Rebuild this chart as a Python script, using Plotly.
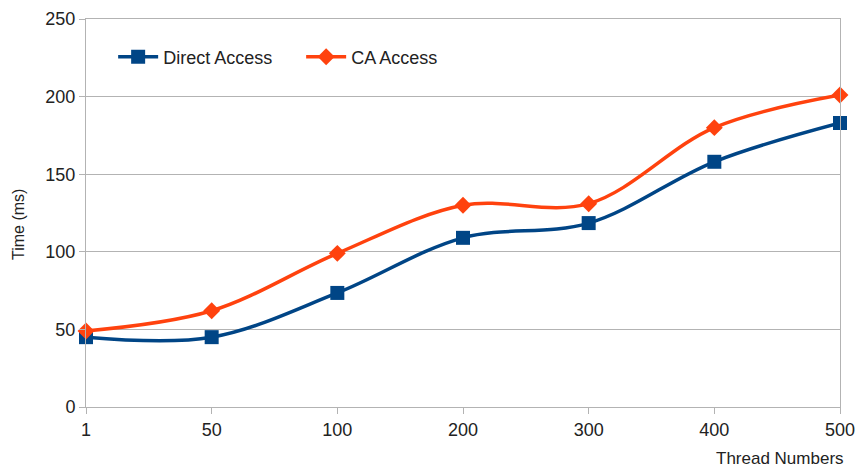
import plotly.graph_objects as go

threads = ["1", "50", "100", "200", "300", "400", "500"]
direct_access = [45, 45, 73.5, 109, 118.5, 158, 183]
ca_access = [49, 62, 99, 130, 131, 180, 201]
y_ticks = [0, 50, 100, 150, 200, 250]

font_family = "Liberation Sans, Arial, sans-serif"

fig = go.Figure()
fig.add_trace(go.Scatter(
    x=threads, y=direct_access, name="Direct Access",
    mode="lines+markers", line=dict(color="#004586", width=3.5, shape="spline", smoothing=1),
    marker=dict(symbol="square", size=14, color="#004586"), cliponaxis=False,
))
fig.add_trace(go.Scatter(
    x=threads, y=ca_access, name="CA Access",
    mode="lines+markers", line=dict(color="#ff420e", width=3.5, shape="spline", smoothing=1),
    marker=dict(symbol="diamond", size=13, color="#ff420e"), cliponaxis=False,
))

fig.update_layout(
    width=856, height=473,
    margin=dict(l=86, r=16, t=19, b=66, autoexpand=False),
    paper_bgcolor="white", plot_bgcolor="white",
    font=dict(family=font_family, size=18, color="#222"),
    showlegend=True,
    legend=dict(orientation="h", x=0.036, y=0.902, xanchor="left", yanchor="middle",
                bgcolor="rgba(0,0,0,0)", font=dict(size=18), itemwidth=40, tracegroupgap=0,
                entrywidth=133, entrywidthmode="pixels"),
)
fig.update_xaxes(
    type="category", range=[0, 6], showgrid=False, automargin=False,
    showline=True, linecolor="#b3b3b3", linewidth=1, mirror=True,
    ticks="outside", ticklen=6, tickcolor="#b3b3b3",
    tickfont=dict(size=18),
)
fig.update_yaxes(
    range=[0, 250], tickvals=y_ticks, showgrid=True, gridcolor="#b3b3b3", gridwidth=1,
    showline=True, linecolor="#b3b3b3", linewidth=1, mirror=True, zeroline=False, automargin=False,
    ticks="outside", ticklen=6, tickcolor="#b3b3b3",
    tickfont=dict(size=18),
)
fig.add_annotation(text="Thread Numbers", xref="paper", yref="paper", x=1.0, y=0,
                   xanchor="right", yanchor="bottom", yshift=-63, xshift=6, showarrow=False,
                   font=dict(size=17, color="#222"))
fig.add_annotation(text="Time (ms)", xref="paper", yref="paper", x=0, y=0.469,
                   xanchor="center", yanchor="middle", xshift=-68, textangle=-90, showarrow=False,
                   font=dict(size=16, color="#222"))

fig.write_html("out.html")
